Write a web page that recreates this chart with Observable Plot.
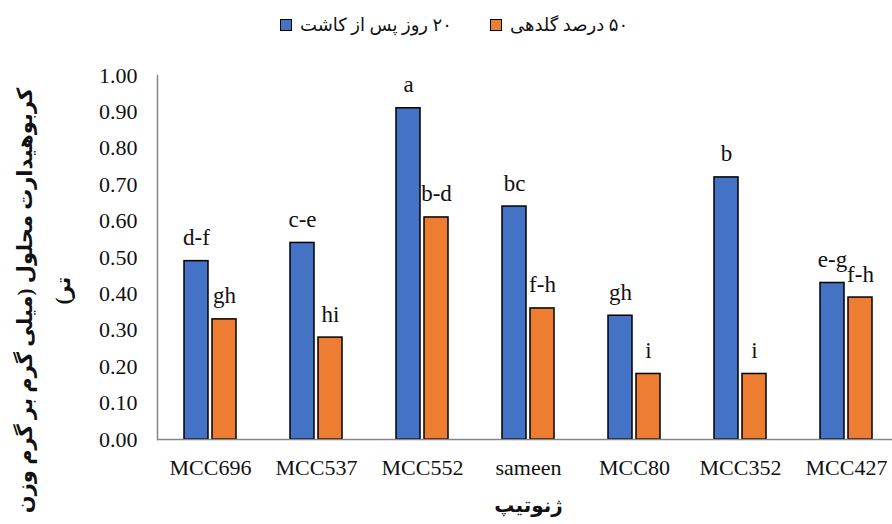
<!DOCTYPE html>
<html>
<head>
<meta charset="utf-8">
<script src="https://cdn.jsdelivr.net/npm/d3@7"></script>
<script src="https://cdn.jsdelivr.net/npm/@observablehq/plot@0.6"></script>
<style>
  html, body { margin: 0; padding: 0; background: #fff; }
  #wrap { width: 892px; height: 524px; position: relative; overflow: hidden; }
  #legend { height: 50px; display: flex; align-items: center; direction: ltr;
    font-family: "Liberation Serif", "DejaVu Sans", serif; font-size: 18px; color: #111;
    padding-left: 280px; box-sizing: border-box; }
  .item { display: flex; align-items: center; margin-right: 38px; }
  .sw { width: 10px; height: 10px; border: 1.5px solid #000; margin-right: 8px; }
</style>
</head>
<body>
<div id="wrap">
  <div id="legend"></div>
  <div id="chart"></div>
</div>
<script>
const genotypes = ["MCC696", "MCC537", "MCC552", "sameen", "MCC80", "MCC352", "MCC427"];
const seriesNames = ["۲۰ روز پس از کاشت", "۵۰ درصد گلدهی"];
const seriesColors = ["#4472C4", "#ED7D31"];
const values20 = [0.49, 0.54, 0.91, 0.64, 0.34, 0.72, 0.43];
const values50 = [0.33, 0.28, 0.61, 0.36, 0.18, 0.18, 0.39];
const letters20 = ["d-f", "c-e", "a", "bc", "gh", "b", "e-g"];
const letters50 = ["gh", "hi", "b-d", "f-h", "i", "i", "f-h"];
const yTicks = [0, 0.1, 0.2, 0.3, 0.4, 0.5, 0.6, 0.7, 0.8, 0.9, 1.0];
const yTitle1 = "کربوهیدارت محلول (میلی گرم بر گرم وزن";
const yTitle2 = "تر)\u200F";
const xTitle = "ژنوتیپ";

const data = [];
genotypes.forEach((g, i) => {
  data.push({genotype: g, series: seriesNames[0], value: values20[i], letter: letters20[i]});
  data.push({genotype: g, series: seriesNames[1], value: values50[i], letter: letters50[i]});
});

// legend
const legend = document.getElementById("legend");
seriesNames.forEach((s, i) => {
  const it = document.createElement("div");
  it.className = "item";
  const sw = document.createElement("div");
  sw.className = "sw";
  sw.style.background = seriesColors[i];
  const t = document.createElement("span");
  t.dir = "rtl";
  t.textContent = s;
  it.appendChild(sw); it.appendChild(t);
  legend.appendChild(it);
});

const FONT = "Liberation Serif, DejaVu Sans, serif";
const chart = Plot.plot({
  width: 892,
  height: 474,
  marginTop: 25,
  marginBottom: 85,
  marginLeft: 157,
  marginRight: -7,
  style: {fontFamily: FONT, fontSize: "22px", color: "#111", background: "#fff"},
  fx: {domain: genotypes, padding: 0, label: null},
  x: {domain: seriesNames, paddingInner: 0.143, paddingOuter: 0.964, axis: null},
  y: {domain: [0, 1], label: null},
  color: {domain: seriesNames, range: seriesColors},
  marks: [
    Plot.barY(data, {fx: "genotype", x: "series", y: "value", fill: "series", stroke: "#000", strokeWidth: 1.5}),
    Plot.ruleY([0], {stroke: "#868686", strokeWidth: 1.5}),
    Plot.frame({anchor: "left", facet: "super", stroke: "#868686", strokeWidth: 1.5}),
    Plot.axisY({ticks: yTicks, tickFormat: d3.format(".2f"), tickSize: 0, tickPadding: 20, label: null, fontFamily: FONT, fontSize: 22}),
    Plot.axisFx({anchor: "bottom", tickSize: 0, tickPadding: 20, label: null, fontFamily: FONT, fontSize: 22}),
    Plot.text(data, {fx: "genotype", x: "series", y: "value", text: "letter", lineAnchor: "bottom", dy: -16, fontSize: 23, fontFamily: FONT, fill: "#111"}),
    Plot.text([yTitle1], {facet: "super", frameAnchor: "left", textAnchor: "middle", rotate: -90, dx: -132, dy: 43, fontWeight: "bold", fontSize: 21, fontFamily: FONT, fill: "#111"}),
    Plot.text([yTitle2], {facet: "super", frameAnchor: "left", textAnchor: "middle", rotate: -90, dx: -94, dy: 33, fontWeight: "bold", fontSize: 21, fontFamily: FONT, fill: "#111"}),
    Plot.text([xTitle], {facet: "super", frameAnchor: "bottom", dy: 72, fontWeight: "bold", fontSize: 20, fontFamily: FONT, fill: "#111"})
  ]
});
document.getElementById("chart").appendChild(chart);
</script>
</body>
</html>
